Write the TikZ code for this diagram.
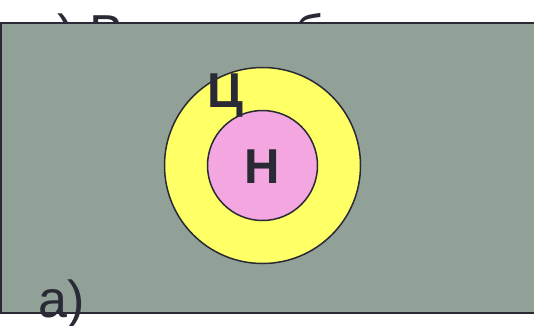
\documentclass[tikz,border=0pt]{standalone}
\usepackage{fontspec}
\setmainfont{Liberation Sans}
\usetikzlibrary{positioning}
\definecolor{fieldgray}{RGB}{145,161,151}
\definecolor{ringyellow}{RGB}{255,255,102}
\definecolor{corepink}{RGB}{244,166,224}
\definecolor{inkdark}{RGB}{42,42,54}

\begin{document}
\begin{tikzpicture}[x=1pt, y=-1pt,
    set/.style={circle, draw=inkdark, line width=1.5pt, inner sep=0pt},
    letter/.style={font=\fontsize{49}{49}\selectfont\bfseries, text=inkdark, inner sep=0pt},
    caption/.style={font=\fontsize{52}{52}\selectfont, text=inkdark, inner sep=0pt}
  ]
    \useasboundingbox (0,0) rectangle (534,325);

    % heading, mostly hidden under the field
    \node[caption, anchor=base west] (title) at (30,51) {в) Все они были};

    % the field
    \fill[fieldgray] (1,23) rectangle (560,313);
    \draw[inkdark, line width=2pt] (560,23) -- (1,23) -- (1,313) -- (560,313);

    \node[set, fill=ringyellow, minimum size=196pt] (outer) at (262.5,165.5) {};
    \node[set, fill=corepink, minimum size=110pt] (inner) at (outer.center) {};

    \node[letter, anchor=base west] (outerlbl) at (207,107) {Ц};
    \node[letter, anchor=base] (innerlbl) at (262.5,183) {Н};

    \node[caption, anchor=base west] (case) at (38,317) {а)};
  \end{tikzpicture}
\end{document}
